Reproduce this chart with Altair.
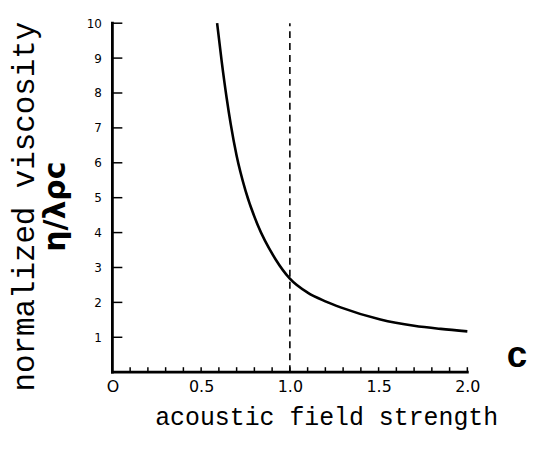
import altair as alt
import pandas as pd

# curve
field_strength = [0.59, 0.616, 0.644, 0.667, 0.70, 0.75, 0.82, 0.92, 1.00, 1.10, 1.20, 1.29, 1.51, 1.70, 1.85, 2.00]
viscosity = [10.0, 8.9, 7.85, 7.1, 6.2, 5.2, 4.2, 3.23, 2.68, 2.28, 2.03, 1.85, 1.51, 1.33, 1.24, 1.17]

critical_x = [1.0]
critical_y0 = [0]
critical_y1 = [10]

x_minor_ticks = [0.1, 0.2, 0.3, 0.4, 0.5, 0.6, 0.7, 0.8, 0.9, 1.0,
                 1.1, 1.2, 1.3, 1.4, 1.5, 1.6, 1.7, 1.8, 1.9, 2.0]
y_ticks = [1, 2, 3, 4, 5, 6, 7, 8, 9, 10]
x_label_values = [0, 0.5, 1.0, 1.5, 2.0]

# axis frame lines (x from, x to, y from, y to)
frame_x0 = [0, 0]
frame_x1 = [0, 2]
frame_y0 = [0, 0]
frame_y1 = [10, 0]

panel_label = ["c"]
panel_label_x = [2.28]
panel_label_y = [0.47]

W, H = 357, 351

curve_df = pd.DataFrame({"x": field_strength, "y": viscosity})
crit_df = pd.DataFrame({"x": critical_x, "y": critical_y0, "y1": critical_y1})
xt_df = pd.DataFrame({"x": x_minor_ticks})
yt_df = pd.DataFrame({"y": y_ticks})
frame_df = pd.DataFrame({"x": frame_x0, "x1": frame_x1, "y": frame_y0, "y1": frame_y1})
lab_df = pd.DataFrame({"t": panel_label, "x": panel_label_x, "y": panel_label_y})

xscale = alt.Scale(domain=[0, 2], nice=False, zero=False)
yscale = alt.Scale(domain=[0, 10], nice=False)

x_axis = alt.Axis(
    values=x_label_values,
    labelExpr="datum.value == 0 ? 'O' : format(datum.value, '.1f')",
    ticks=False, grid=False, domain=False,
    labelFont="DejaVu Sans", labelFontSize=16, labelColor="black",
    labelPadding=6, labelFlush=False,
    title="acoustic field strength",
    titleX=215, titleY=45, titleAlign="center", titleBaseline="middle",
)
y_axis = alt.Axis(
    values=y_ticks, ticks=False, grid=False, domain=False,
    labelFont="DejaVu Sans", labelFontSize=12, labelColor="black",
    labelPadding=11, labelFlush=False, title=None,
)

X = alt.X("x:Q", scale=xscale, axis=x_axis)
Y = alt.Y("y:Q", scale=yscale, axis=y_axis)

frame = alt.Chart(frame_df).mark_rule(
    color="black", strokeWidth=2.8, strokeCap="square"
).encode(x=X, x2="x1:Q", y=Y, y2="y1:Q")

curve = alt.Chart(curve_df).mark_line(
    color="black", strokeWidth=2.6, interpolate="monotone"
).encode(x=X, y=Y)

dashed = alt.Chart(crit_df).mark_rule(
    color="black", strokeWidth=1.6, strokeDash=[7, 5]
).encode(x=X, y=Y, y2="y1:Q")

xticks = alt.Chart(xt_df).mark_rule(color="black", strokeWidth=1.5).encode(
    x=X, y=alt.value(H), y2=alt.value(H - 5),
)

yticks = alt.Chart(yt_df).mark_rule(color="black", strokeWidth=1.5).encode(
    y=Y, x=alt.value(0), x2=alt.value(10),
)

label = alt.Chart(lab_df).mark_text(
    font="Liberation Sans", fontSize=37, fontWeight="bold", color="black",
    align="center", baseline="middle",
).encode(x=X, y=Y, text="t:N")

chart = alt.layer(frame, curve, dashed, xticks, yticks, label).properties(
    width=W, height=H,
    autosize=alt.AutoSizeParams(type="none"),
    padding={"left": 105, "top": 14, "right": 60, "bottom": 80},
    background="white",
    title=alt.TitleParams(
        text="normalized viscosity",
        subtitle="η/λρc",
        orient="left", anchor="middle", frame="group", dx=-9,
        font="Liberation Mono", fontSize=31, fontWeight="normal", color="black",
        subtitleFont="DejaVu Sans", subtitleFontSize=30, subtitleFontWeight="bold",
        subtitleColor="black", subtitlePadding=1, offset=14,
    ),
).configure_view(stroke=None).configure_axis(
    labelColor="black",
    titleFont="Liberation Mono", titleFontSize=25, titleFontWeight="normal",
    titleColor="black",
)

chart.save("out.html", embed_options={"renderer": "svg", "actions": False})
